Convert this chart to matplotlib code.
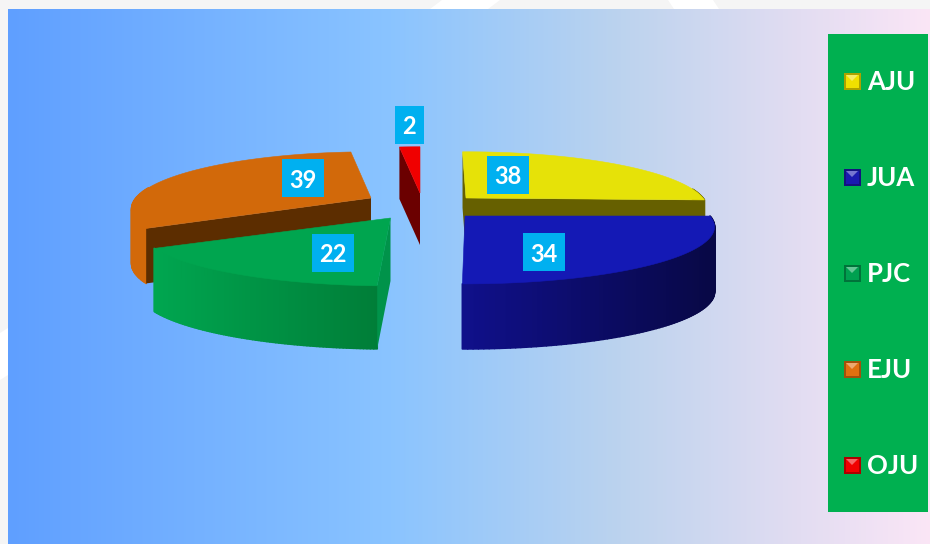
import numpy as np
import matplotlib
matplotlib.use("Agg")
import matplotlib.pyplot as plt
from matplotlib.colors import to_rgb
from matplotlib.patches import Rectangle, Polygon
from matplotlib.collections import PolyCollection

# ---------- data ----------
categories = ["AJU", "JUA", "PJC", "EJU", "OJU"]
values = [38, 34, 22, 39, 2]

# ---------- style / layout (pixel space of the 930x544 canvas) ----------
top_colors = ["#e6e208", "#1419b5", "#00a54f", "#d2690a", "#f00000"]
side_left = ["#6b6500", "#10108c", "#00a650", "#d2690a", "#6b0000"]
side_right = ["#6b6500", "#080845", "#007e38", "#d2690a", "#6b0000"]
cut_colors = ["#666000", "#0c0c60", "#00934a", "#5c2d00", "#6b0000"]
legend_colors = ["#f0e000", "#1a1ab0", "#00a050", "#e07010", "#f00000"]
apex_x = [466, 465, 390.5, 371, 420]
apex_y = [198, 216, 218, 198, 193]
radius_x = [237, 245, 247, 235, 240]
depth = [56, 65, 63, 55, 52]
angle_trim = [0, -2, 0, 0, 0]
show_start_cut = [True, False, True, True, True]
show_end_cut = [True, False, False, False, False]
draw_order = [0, 3, 4, 1, 2]
label_xy = [(508, 175), (544, 252), (333, 253), (303, 178), (409, 125)]
margin_shapes = [
    [(442, 0), (500, 0), (488, 9), (430, 9)],
    [(668, 0), (713, 0), (719, 9), (674, 9)],
    [(0, 333), (8, 328), (8, 375), (0, 380)],
]
RY = 55.0
K = 0.19
WARP_IN = [0, 101.3, 192, 250.7, 360]
WARP_OUT = [-1, 92, 182.5, 240, 360]
FONT = "Lato"

fig = plt.figure(figsize=(9.3, 5.44), dpi=100, facecolor="#f5f5f5")
ax = fig.add_axes([0, 0, 1, 1])
ax.set_axis_off()

# pale page decoration showing in the margins
for shape in margin_shapes:
    ax.add_patch(Polygon(shape, closed=True, fc="white", ec="none", zorder=0))

# background gradient
stops_x = [8, 390, 620, 800, 930]
stops_c = ["#5f9fff", "#8ac4ff", "#bcd3ee", "#e3ddf2", "#fbe6f6"]
xs = np.arange(8, 930)
stops_rgb = np.array([to_rgb(c) for c in stops_c])
grad = np.stack([np.interp(xs, stops_x, stops_rgb[:, i]) for i in range(3)], axis=-1)[None, :, :]
ax.imshow(grad, extent=[8, 930, 544, 9], aspect="auto", zorder=1)
ax.set_xlim(0, 930)
ax.set_ylim(544, 0)


def project(theta, i):
    th = np.radians(np.interp(theta, WARP_IN, WARP_OUT) + angle_trim[i])
    s, c = np.sin(th), np.cos(th)
    p = 1 + K * c
    dx = radius_x[i] * s / p
    return apex_x[i] + dx, apex_y[i] - RY * c / p


def cut_face(theta, i):
    x, y = project(theta, i)
    return [(apex_x[i], apex_y[i]), (x, y), (x, y + depth[i]), (apex_x[i], apex_y[i] + depth[i])]


bounds = np.concatenate([[0], np.cumsum(values)]) / sum(values) * 360.0

for i in draw_order:
    t0, t1 = bounds[i], bounds[i + 1]
    arc = np.linspace(t0, t1, 90)
    x, y = project(arc, i)
    # curved outer side
    screen = np.interp(arc, WARP_IN, WARP_OUT)
    quads, cols = [], []
    xr = (x.min(), x.max())
    cl, cr = np.array(to_rgb(side_left[i])), np.array(to_rgb(side_right[i]))
    for j in range(len(arc) - 1):
        if 80 <= screen[j] <= 280:
            quads.append([(x[j], y[j]), (x[j + 1], y[j + 1]),
                          (x[j + 1], y[j + 1] + depth[i]), (x[j], y[j] + depth[i])])
            f = (x[j] - xr[0]) / max(xr[1] - xr[0], 1)
            cols.append(cl + (cr - cl) * f)
    if quads:
        ax.add_collection(PolyCollection(quads, facecolors=cols, edgecolors=cols, linewidths=1.2,
                                         zorder=2 + draw_order.index(i)))
    z = 2.2 + draw_order.index(i)
    if show_end_cut[i]:
        ax.add_patch(Polygon(cut_face(t1, i), closed=True, fc=cut_colors[i], ec="none", zorder=z))
    if show_start_cut[i]:
        ax.add_patch(Polygon(cut_face(t0, i), closed=True, fc=cut_colors[i], ec="none", zorder=z))
    top = [(apex_x[i], apex_y[i])] + list(zip(x, y))
    ax.add_patch(Polygon(top, closed=True, fc=top_colors[i], ec=top_colors[i], lw=0.4, zorder=z + 0.2))

# data labels
for i, v in enumerate(values):
    lx, ly = label_xy[i]
    w = 42 if v >= 10 else 29
    ax.add_patch(Rectangle((lx - w / 2, ly - 19), w, 38, fc="#00b0f0", ec="none", zorder=20))
    ax.text(lx, ly, str(v), color="white", fontsize=17, fontweight="bold", family=FONT,
            ha="center", va="center_baseline", zorder=21)

# legend
ax.add_patch(Rectangle((828, 34), 100, 478, fc="#00b050", ec="none", zorder=20))
for i, name in enumerate(categories):
    ly = 81 + i * 96
    base = np.array(to_rgb(legend_colors[i]))
    ax.add_patch(Rectangle((843.5, ly - 8.5), 17, 17, fc=base * 0.72, ec="none", zorder=21))
    ax.add_patch(Rectangle((845.5, ly - 6.5), 13, 13, fc=base, ec="none", zorder=22))
    ax.add_patch(Polygon([(846, ly - 6), (858, ly - 6), (852, ly)], closed=True,
                         fc=base * 0.6 + 0.4, ec="none", zorder=23))
    ax.text(867, ly - 1, name, color="white", fontsize=18.5, fontweight="bold", family=FONT,
            ha="left", va="center_baseline", zorder=24)

fig.savefig("out.png", dpi=100, facecolor=fig.get_facecolor())
